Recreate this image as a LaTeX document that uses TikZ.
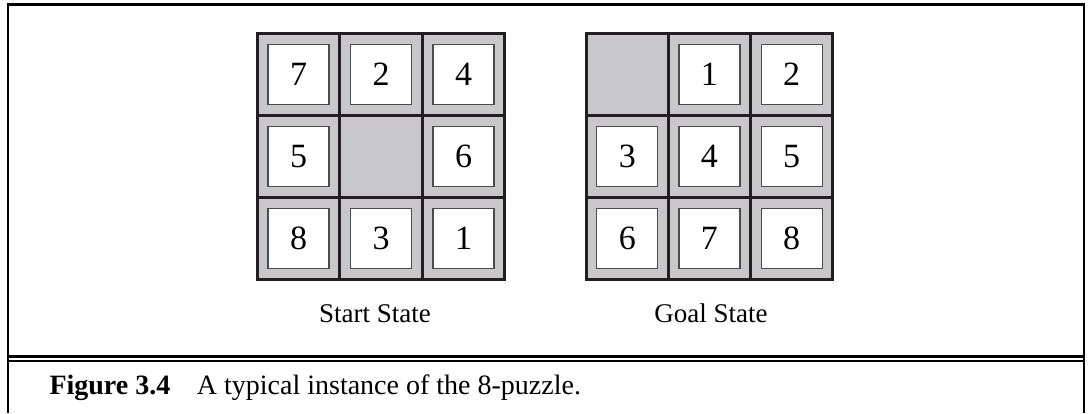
\documentclass[tikz,border=0pt]{standalone}
\usepackage{fontspec}
\setmainfont{Liberation Serif}
\definecolor{cellgray}{RGB}{200,200,202}
\definecolor{gridline}{RGB}{35,31,32}
\definecolor{tileline}{RGB}{75,75,75}
\begin{document}
\begin{tikzpicture}[x=1pt,y=-1pt,
  cellbox/.style={draw=gridline, line width=3pt, fill=cellgray, minimum width=82.5pt, minimum height=82pt, inner sep=0pt, outer sep=0pt},
  tilebox/.style={draw=tileline, line width=1.3pt, fill=white, minimum width=61pt, minimum height=60pt, inner sep=0pt, font=\fontsize{34}{38}\selectfont},
  statelabel/.style={anchor=base, inner sep=0pt, font=\fontsize{27}{32}\selectfont},
  captext/.style={anchor=base west, inner sep=0pt, font=\fontsize{28}{33}\selectfont},
  framerule/.style={line width=2.8pt, draw=black, line join=miter}
]
\useasboundingbox (0,0) rectangle (1088,413);
% frame
\draw[framerule] (8,413) -- (8,4.5) -- (1084,4.5) -- (1084,413);
\draw[line width=3pt] (8,356.7) -- (1084,356.7);
\draw[line width=1.5pt] (8,360.8) -- (1084,360.8);
% cells
\foreach \r in {0,1,2}{
  \foreach \c in {0,1,2}{
    \node[cellbox] (SC\r\c) at (257.3+41.25+82.5*\c, 33.3+41+82*\r) {};
    \node[cellbox] (GC\r\c) at (586+41.25+82.2*\c, 33.3+41+82*\r) {};
  }
}
% start tiles
\foreach \r/\c/\n in {0/0/7,0/1/2,0/2/4,1/0/5,1/2/6,2/0/8,2/1/3,2/2/1}{
  \node[tilebox] (ST\n) at (SC\r\c) {\n};
}
% goal tiles
\foreach \r/\c/\n in {0/1/1,0/2/2,1/0/3,1/1/4,1/2/5,2/0/6,2/1/7,2/2/8}{
  \node[tilebox] (GT\n) at (GC\r\c) {\n};
}
% labels
\node[statelabel] (startlab) at (375,322) {Start State};
\node[statelabel] (goallab) at (711,322) {Goal State};
% caption
\node[captext] (capnum) at (49.3,394) {\textbf{Figure 3.4}};
\node[captext] (captxt) at (196.7,394) {A typical instance of the 8-puzzle.};
\end{tikzpicture}
\end{document}
